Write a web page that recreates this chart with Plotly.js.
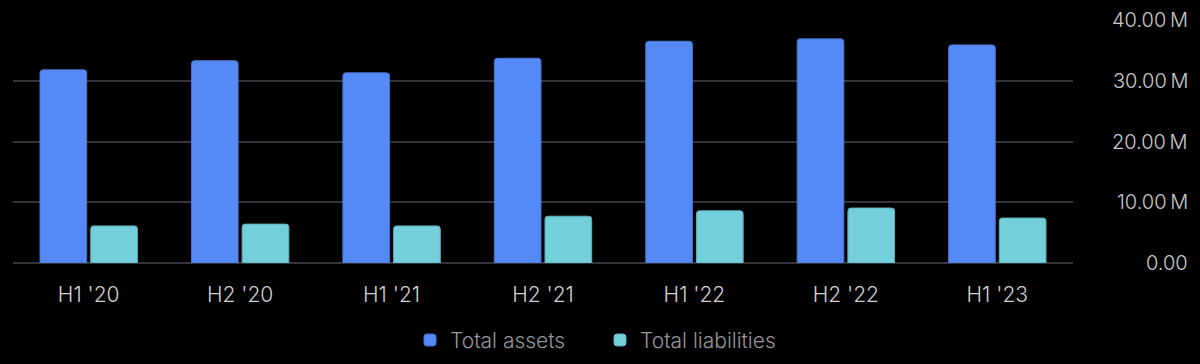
<!DOCTYPE html>
<html>
<head>
<meta charset="utf-8">
<script src="https://cdn.plot.ly/plotly-3.0.1.min.js"></script>
<style>html,body{margin:0;padding:0;background:#000;}#chart{width:1200px;height:364px;}</style>
</head>
<body>
<div id="chart"></div>
<script>
const categories = ["H1 '20", "H2 '20", "H1 '21", "H2 '21", "H1 '22", "H2 '22", "H1 '23"];
const totalAssets = [31.8e6, 33.3e6, 31.3e6, 33.7e6, 36.5e6, 36.9e6, 35.9e6];
const totalLiabilities = [6.1e6, 6.4e6, 6.1e6, 7.7e6, 8.6e6, 9.05e6, 7.4e6];
const yTickVals = [0, 10e6, 20e6, 30e6, 40e6];
const yTickText = ["0.00", "10.00\u2009M", "20.00\u2009M", "30.00\u2009M", "40.00\u2009M"];

const font = "Inter, 'Noto Sans', sans-serif";
const data = [
  {type: 'bar', name: 'Total assets', x: categories, y: totalAssets,
   marker: {color: '#5589F5', line: {color: '#4a74cc', width: 1}}, hoverinfo: 'none'},
  {type: 'bar', name: 'Total liabilities', x: categories, y: totalLiabilities,
   marker: {color: '#72CFDB', line: {color: '#5fb0bb', width: 1}}, hoverinfo: 'none'}
];
const annotations = yTickVals.map((v, i) => ({
  xref: 'paper', yref: 'y', x: 1, y: v, xanchor: 'right', yanchor: 'middle',
  xshift: 117, text: yTickText[i], showarrow: false,
  font: {family: font, size: 20, weight: 300, color: '#c9c9ce'}
}));
const layout = {
  width: 1200, height: 364,
  paper_bgcolor: '#000', plot_bgcolor: '#000',
  margin: {l: 13, r: 127, t: 20, b: 101},
  barmode: 'group', bargap: 0.33, bargroupgap: 0.08, barcornerradius: 3,
  font: {family: font, color: '#c9c9ce'},
  xaxis: {
    type: 'category', showgrid: false, zeroline: false, showline: false,
    ticks: 'outside', ticklen: 13, tickcolor: 'rgba(0,0,0,0)',
    tickfont: {family: font, size: 21, weight: 300, color: '#d0d0d4'}
  },
  yaxis: {
    range: [0, 40e6], tickvals: yTickVals, showticklabels: false,
    showgrid: true, gridcolor: '#33343c', gridwidth: 2,
    zeroline: true, zerolinecolor: '#33343c', zerolinewidth: 2,
    showline: false, fixedrange: true
  },
  showlegend: true,
  legend: {orientation: 'h', x: 0.5, xanchor: 'center', xref: 'container',
           y: 0.065, yref: 'container', yanchor: 'middle', entrywidth: 145,
           font: {family: font, size: 21, weight: 300, color: '#96969c'}, itemclick: false},
  annotations: annotations
};
Plotly.newPlot('chart', data, layout, {staticPlot: true, displayModeBar: false});
</script>
</body>
</html>
